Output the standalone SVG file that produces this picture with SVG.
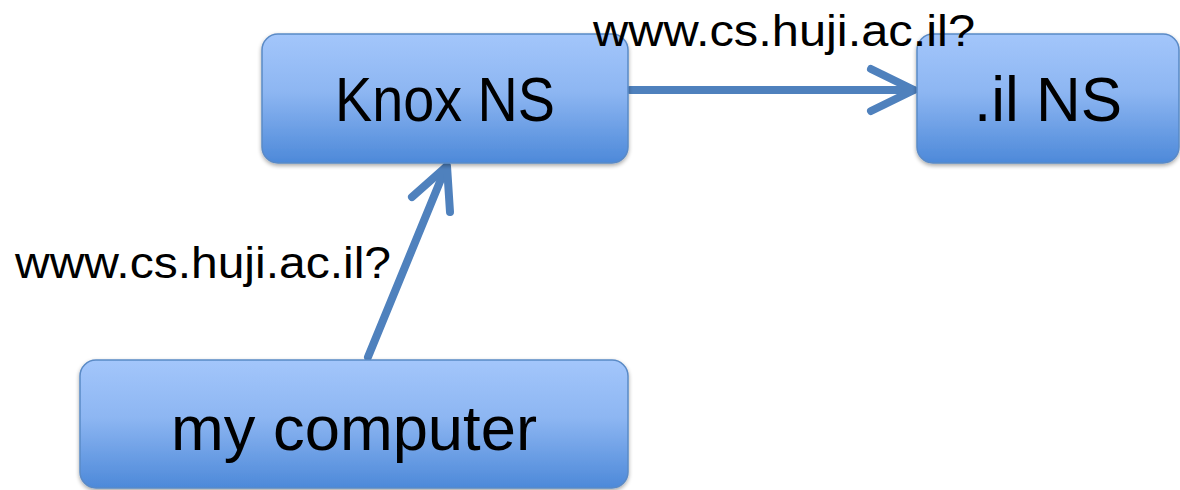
<svg xmlns="http://www.w3.org/2000/svg" width="1180" height="490" viewBox="0 0 1180 490">
  <style>
    .box { fill: url(#boxFill); stroke: #5A8AC6; stroke-width: 1.5; filter: url(#shadow); }
    .name { font-family: "Liberation Sans", Arial, sans-serif; font-size: 63px; fill: #000; text-anchor: middle; }
    .query { font-family: "Liberation Sans", Arial, sans-serif; font-size: 44px; fill: #000; }
    .link { fill: none; stroke: #4F81BD; stroke-width: 8; stroke-linecap: round; stroke-linejoin: round; }
  </style>
  <defs>
    <linearGradient id="boxFill" x1="0" y1="0" x2="0" y2="1">
      <stop offset="0" stop-color="#A3C6FB"/>
      <stop offset="0.45" stop-color="#8DB6F2"/>
      <stop offset="1" stop-color="#4D89D9"/>
    </linearGradient>
    <filter id="shadow" x="-5%" y="-5%" width="110%" height="115%">
      <feGaussianBlur in="SourceAlpha" stdDeviation="2"/>
      <feOffset dx="0" dy="2" result="b"/>
      <feComponentTransfer><feFuncA type="linear" slope="0.35"/></feComponentTransfer>
      <feMerge><feMergeNode/><feMergeNode in="SourceGraphic"/></feMerge>
    </filter>
  </defs>

  <rect width="1180" height="490" fill="#FFFFFF"/>

  <!-- connectors -->
  <g id="connectors">
    <line class="link" x1="630" y1="90" x2="913" y2="90"/>
    <polyline class="link" points="871,69 914,90 871,111"/>
    <line class="link" x1="368" y1="357" x2="446" y2="167"/>
    <polyline class="link" points="412,197 447,166 450,212"/>
  </g>

  <!-- nodes -->
  <g id="knox-ns">
    <rect class="box" x="262" y="34" width="366" height="129" rx="16"/>
    <text class="name" x="445" y="121" textLength="220" lengthAdjust="spacingAndGlyphs">Knox NS</text>
  </g>
  <g id="il-ns">
    <rect class="box" x="917" y="34" width="262" height="129" rx="16"/>
    <text class="name" x="1048" y="121" textLength="148" lengthAdjust="spacingAndGlyphs">.il NS</text>
  </g>
  <g id="my-computer">
    <rect class="box" x="80" y="360" width="548" height="128" rx="16"/>
    <text class="name" x="354" y="450" textLength="366" lengthAdjust="spacingAndGlyphs">my computer</text>
  </g>

  <!-- query labels -->
  <g id="labels">
    <text class="query" x="593" y="46" textLength="382" lengthAdjust="spacingAndGlyphs">www.cs.huji.ac.il?</text>
    <text class="query" x="15" y="278" textLength="376" lengthAdjust="spacingAndGlyphs">www.cs.huji.ac.il?</text>
  </g>
</svg>
